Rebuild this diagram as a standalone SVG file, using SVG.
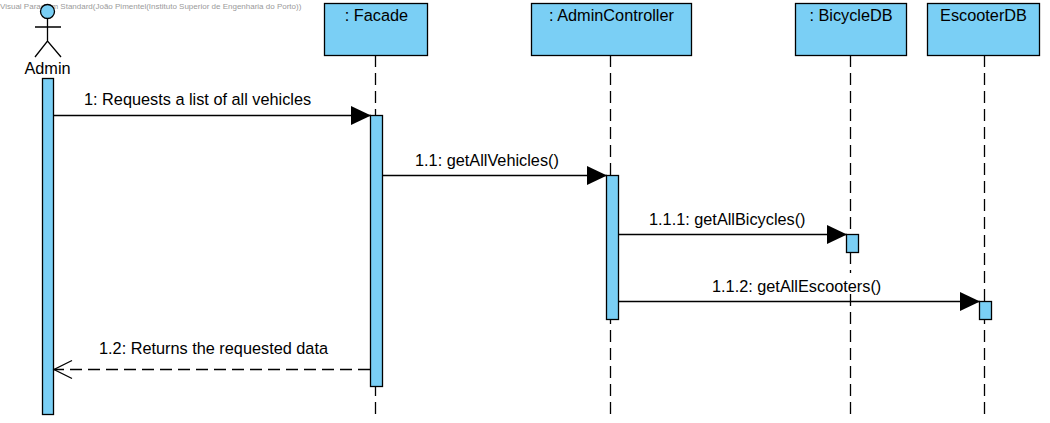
<svg xmlns="http://www.w3.org/2000/svg" width="1050" height="423" viewBox="0 0 1050 423">
<style>
text{font-family:"Liberation Sans",Arial,sans-serif;font-size:16.3px;fill:#000}
.box{fill:#7acff5;stroke:#000;stroke-width:1.3}
.life{stroke:#000;stroke-width:1.3;stroke-dasharray:12 6;fill:none}
.msg{stroke:#000;stroke-width:1.3;fill:none}
.c{text-anchor:middle}
</style>
<defs>
<marker id="solid" markerUnits="userSpaceOnUse" markerWidth="21" markerHeight="21" refX="20" refY="10" orient="auto"><path d="M0 0.500L20 10L0 19.500Z" fill="#000"/></marker>
<marker id="open" markerUnits="userSpaceOnUse" markerWidth="21" markerHeight="21" refX="19" refY="10" orient="auto"><path d="M1 1L19 10L1 19" fill="none" stroke="#000" stroke-width="1.3"/></marker>
</defs>
<rect width="1050" height="423" fill="#fff"/>
<g id="lifelines">
<path class="life" d="M375.500 55V115M375.500 414V387"/>
<path class="life" d="M610.500 55V176M610.500 414V319"/>
<path class="life" d="M850.500 55V235M850.500 252V273M850.500 414V287"/>
<path class="life" d="M984.500 55V301M984.500 414V319"/>
</g>
<g id="watermark"><text x="0" y="9" style="font-size:8px;fill:#9a9a9a">Visual Paradigm Standard(João Pimentel(Instituto Superior de Engenharia do Porto))</text></g>
<g id="admin">
<circle cx="47.500" cy="11.500" r="7" class="box"/>
<path d="M47.500 18.500V41M35 27H61M35 57L47.500 41L61 57" fill="none" stroke="#000" stroke-width="1.300"/>
<text class="c" x="47.500" y="74">Admin</text>
<rect class="box" x="42.500" y="78.500" width="11" height="336"/>
</g>
<g id="facade">
<rect class="box" x="324.500" y="3.500" width="103" height="52"/>
<text class="c" x="376.500" y="21">: Facade</text>
<rect class="box" x="370.500" y="115.500" width="12" height="271"/>
</g>
<g id="admincontroller">
<rect class="box" x="531.500" y="3.500" width="160" height="52"/>
<text class="c" x="611.500" y="21">: AdminController</text>
<rect class="box" x="606.500" y="175.500" width="12" height="144"/>
</g>
<g id="bicycledb">
<rect class="box" x="795.500" y="3.500" width="111" height="52"/>
<text class="c" x="851" y="21">: BicycleDB</text>
<rect class="box" x="846.500" y="234.500" width="12" height="18"/>
</g>
<g id="escooterdb">
<rect class="box" x="927.500" y="3.500" width="112" height="52"/>
<text class="c" x="983.500" y="21">EscooterDB</text>
<rect class="box" x="979.500" y="301.500" width="12" height="18"/>
</g>
<g id="connectors">
<path class="msg" d="M54 115.500H371" marker-end="url(#solid)"/>
<path class="msg" d="M383 175.500H607" marker-end="url(#solid)"/>
<path class="msg" d="M619 234.500H847" marker-end="url(#solid)"/>
<path class="msg" d="M619 301.500H980" marker-end="url(#solid)"/>
<path class="msg" d="M370 369.500H54" stroke-dasharray="12 6" marker-end="url(#open)"/>
</g>
<g id="labels">
<text x="84" y="105">1: Requests a list of all vehicles</text>
<text x="415" y="166">1.1: getAllVehicles()</text>
<text x="649" y="225">1.1.1: getAllBicycles()</text>
<text x="712" y="292">1.1.2: getAllEscooters()</text>
<text x="99" y="354">1.2: Returns the requested data</text>
</g>
</svg>
